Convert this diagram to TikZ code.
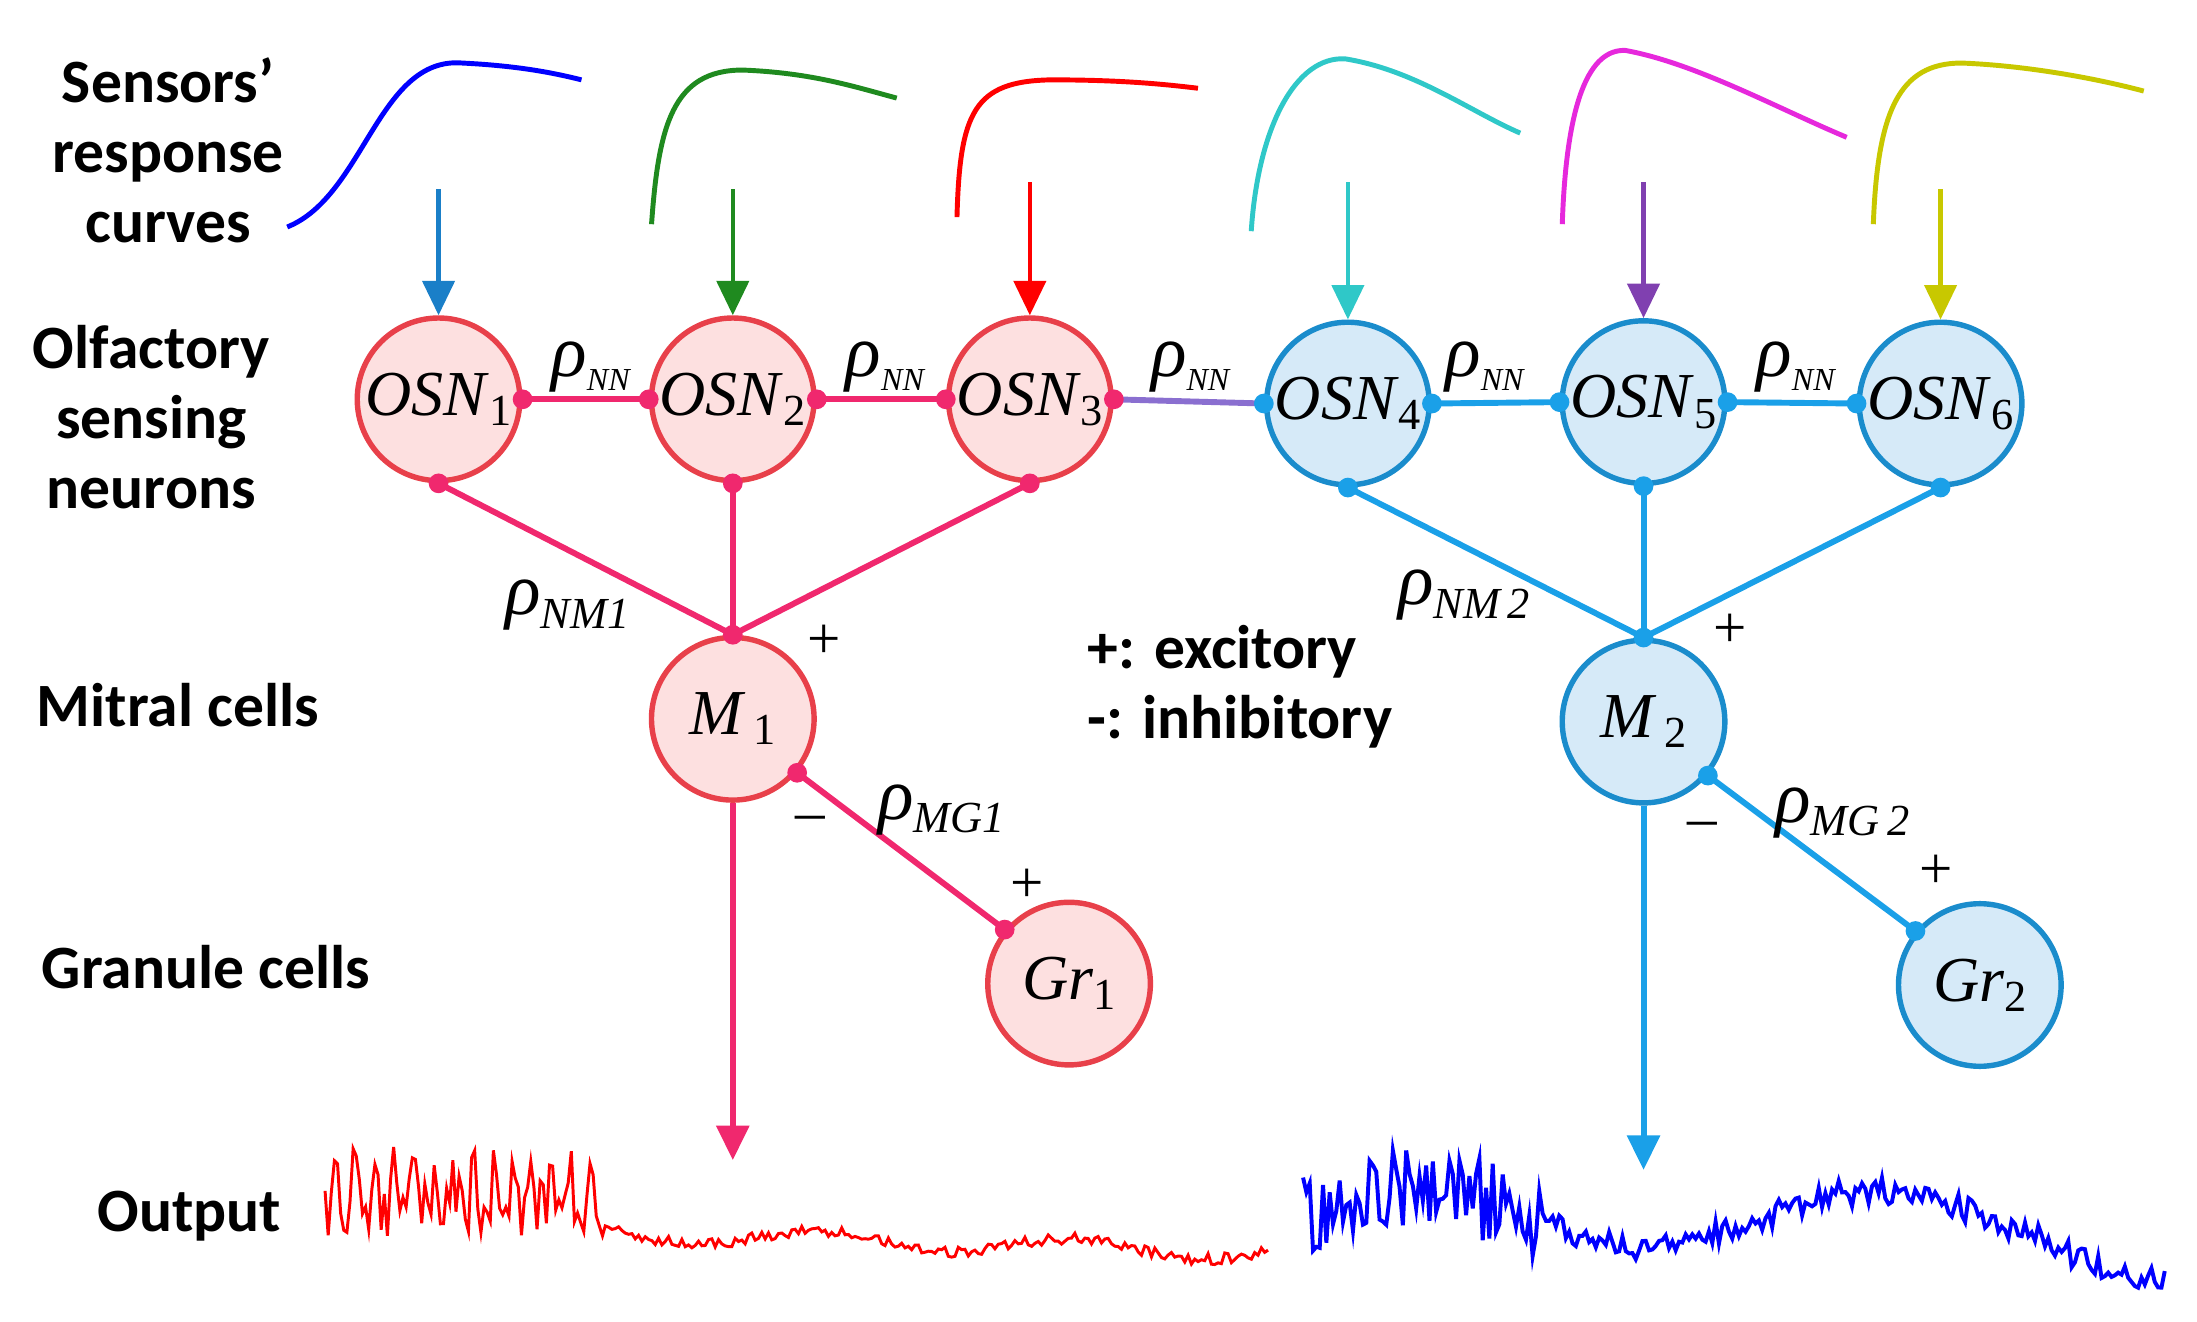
\documentclass[tikz,border=0pt]{standalone}
\usepackage{fontspec}
\setmainfont{Carlito}
\newfontfamily\tms{Liberation Serif}
\usetikzlibrary{arrows.meta}
\definecolor{rb}{HTML}{E8404A}\definecolor{rf}{HTML}{FDE0E0}
\definecolor{bb}{HTML}{1A8CCC}\definecolor{bf}{HTML}{D6EAF8}
\definecolor{pk}{HTML}{F0286E}\definecolor{bl}{HTML}{1AA0E8}
\newcommand{\nl}[2]{\textit{#1}\raisebox{-0.35ex}{\fontsize{9}{10}\selectfont #2}}
\newcommand{\rl}[1]{\textit{\fontsize{15}{16}\selectfont ρ}\raisebox{-0.5ex}{\textit{\fontsize{9}{10}\selectfont #1}}}
\newcommand{\rs}[1]{\textit{\fontsize{15}{16}\selectfont ρ}\raisebox{-0.5ex}{\textit{\fontsize{6.5}{7}\selectfont #1}}}
\begin{document}
\begin{tikzpicture}[x=0.01cm,y=-0.01cm,
 rn/.style={circle,draw=rb,fill=rf,line width=1.1pt,minimum size=1.16cm,inner sep=0pt,font=\tms\fontsize{13}{15}\selectfont},
 bn/.style={circle,draw=bb,fill=bf,line width=1.1pt,minimum size=1.16cm,inner sep=0pt,font=\tms\fontsize{13}{15}\selectfont},
 lab/.style={font=\fontsize{12.5}{14.2}\selectfont\bfseries,align=center},
 dot/.style={circle,fill,inner sep=0pt,minimum size=4pt},
 ml/.style={font=\tms\fontsize{12}{14}\selectfont},
 sa/.style={line width=0.9pt,-{Triangle[length=7pt,width=6.5pt]}},
 cv/.style={line width=1pt}]
\useasboundingbox (0,0) rectangle (1568,943);
% labels
\node[lab] (l1) at (120,107) {Sensors'\\response\\curves};
\node[lab] (l2) at (108,298) {Olfactory\\sensing\\neurons};
\node[lab] (l3) at (127,503) {Mitral cells};
\node[lab] (l4) at (147,690) {Granule cells};
\node[lab] (l5) at (135,868) {Output};
\node[lab,align=left] (l6) at (885,490) {+: excitory\\-: inhibitory};
% nodes
\node[rn] (o1) at (313,285) {\nl{OSN}{1}};
\node[rn] (o2) at (523,285) {\nl{OSN}{2}};
\node[rn] (o3) at (735,285) {\nl{OSN}{3}};
\node[bn] (o4) at (962,288) {\nl{OSN}{4}};
\node[bn] (o5) at (1173,287) {\nl{OSN}{5}};
\node[bn] (o6) at (1385,288) {\nl{OSN}{6}};
\node[rn] (m1) at (523,513) {\nl{M}{\,1}};
\node[bn] (m2) at (1173,515) {\nl{M}{\,2}};
\node[rn] (g1) at (763,702) {\nl{Gr}{1}};
\node[bn] (g2) at (1413,703) {\nl{Gr}{2}};
% links
\begin{scope}[line width=1.2pt]
\draw[pk] (o1.east) node[dot]{} -- (o2.west) node[dot]{};
\draw[pk] (o2.east) node[dot]{} -- (o3.west) node[dot]{};
\draw[color={rgb,255:red,138;green,111;blue,208}] (o3.east) node[dot,pk]{} -- (o4.west) node[dot,bl]{};
\draw[bl] (o4.east) node[dot]{} -- (o5.west) node[dot]{};
\draw[bl] (o5.east) node[dot]{} -- (o6.west) node[dot]{};
\coordinate (t1) at (m1.north); \coordinate (t2) at (m2.north);
\draw[pk] (o1.south) node[dot]{} -- (t1);
\draw[pk] (o2.south) node[dot]{} -- (t1);
\draw[pk] (o3.south) node[dot]{} -- (t1) node[dot]{};
\draw[bl] (o4.south) node[dot]{} -- (t2);
\draw[bl] (o5.south) node[dot]{} -- (t2);
\draw[bl] (o6.south) node[dot]{} -- (t2) node[dot]{};
\draw[pk] (m1.-40) node[dot]{} -- (g1.140) node[dot]{};
\draw[bl] (m2.-40) node[dot]{} -- (g2.140) node[dot]{};
\coordinate (e1) at (523,828); \coordinate (e2) at (1173,835);
\draw[pk,sa,line width=1.2pt] (m1.south) -- (e1);
\draw[bl,sa,line width=1.2pt] (m2.south) -- (e2);
\end{scope}
% math labels
\foreach \x/\n in {422/a,632/b,850/c,1060/d,1282/e}
 \node[ml] (r\n) at (\x,262) {\rs{NN}};
\node[ml] (rm1) at (405,432) {\rl{NM1}};
\node[ml] (rm2) at (1045,425) {\rl{NM\,2}};
\node[ml] (rg1) at (672,578) {\rl{MG1}};
\node[ml] (rg2) at (1315,580) {\rl{MG\,2}};
\foreach \x/\y/\n in {588/458/p1,1235/450/p2,733/632/p3,1382/622/p4}
 \node[ml] (\n) at (\x,\y) {+};
\foreach \x/\y/\n in {578/588/q1,1215/592/q2}
 \node[ml] (\n) at (\x,\y) {–};
% sensor arrows
\coordinate (s1) at (313,135); \coordinate (s2) at (523,135); \coordinate (s3) at (735,130);
\coordinate (s4) at (962,130); \coordinate (s5) at (1173,130); \coordinate (s6) at (1385,135);
\draw[sa,color={rgb,255:red,26;green,127;blue,200}] (s1) -- (o1.north);
\draw[sa,color={rgb,255:red,31;green,138;blue,31}] (s2) -- (o2.north);
\draw[sa,red] (s3) -- (o3.north);
\draw[sa,color={rgb,255:red,47;green,200;blue,200}] (s4) -- (o4.north);
\draw[sa,color={rgb,255:red,128;green,64;blue,176}] (s5) -- (o5.north);
\draw[sa,color={rgb,255:red,200;green,200;blue,0}] (s6) -- (o6.north);
% response curves
\draw[cv,blue] (205,162) .. controls (260,140) and (270,40) .. (330,45) .. controls (370,47) and (395,52) .. (415,57);
\draw[cv,color={rgb,255:red,31;green,138;blue,31}] (465,160) .. controls (470,90) and (480,50) .. (530,50) .. controls (580,52) and (610,62) .. (640,70);
\draw[cv,red] (683,155) .. controls (685,80) and (695,58) .. (750,57) .. controls (800,57) and (830,60) .. (855,63);
\draw[cv,color={rgb,255:red,47;green,200;blue,200}] (893,165) .. controls (898,90) and (925,40) .. (960,42) .. controls (1010,50) and (1050,80) .. (1085,95);
\draw[cv,color={rgb,255:red,230;green,40;blue,220}] (1115,160) .. controls (1118,70) and (1135,35) .. (1160,36) .. controls (1210,45) and (1270,78) .. (1318,98);
\draw[cv,color={rgb,255:red,200;green,200;blue,0}] (1337,160) .. controls (1340,80) and (1355,45) .. (1400,45) .. controls (1450,47) and (1500,57) .. (1530,65);
% outputs
\pgfmathsetseed{7}
\draw[red,line width=0.6pt] plot[samples=90,domain=232:430] (\x,{ifthenelse(mod(int(\x),14)<3,825+rand*8,860+rand*22)})
 -- plot[samples=200,domain=432:905] (\x,{880+0.03*(\x-432)-6*sin(\x*2)+rand*4});
\draw[blue,line width=0.8pt] plot[samples=260,domain=930:1545] (\x,{870-20*sin((\x-930)*1.1)+ifthenelse(\x<1100,rand*30,rand*10)+ifthenelse(\x>1450,0.3*(\x-1450),0)});
\end{tikzpicture}
\end{document}
